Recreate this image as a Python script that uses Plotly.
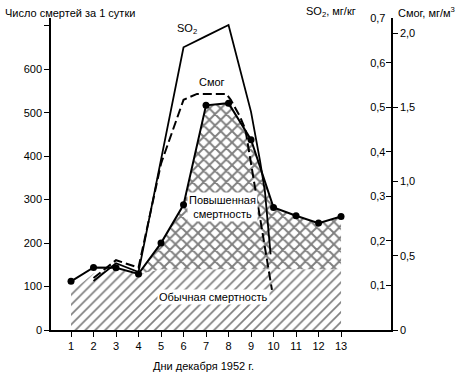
import plotly.graph_objects as go

days = list(range(1, 14))
deaths = [112, 144, 143, 129, 200, 288, 517, 522, 438, 282, 263, 246, 261]
usual = [88, 130, 140, 129, 140, 140, 140, 140, 140, 140, 140, 140, 140]

so2_days = [2, 3, 4, 5, 6, 7, 8, 9, 9.4, 9.62, 9.76, 9.87]
so2_vals = [0.11, 0.15, 0.13, 0.38, 0.635, 0.66, 0.685, 0.49, 0.38, 0.31, 0.24, 0.17]

smog_days = [2, 3, 4, 5, 6, 6.6, 7.9, 8.1, 8.5, 8.75, 9.93]
smog_vals = [0.35, 0.47, 0.42, 1.12, 1.55, 1.59, 1.59, 1.55, 1.44, 1.35, 0.27]

x_ticks = days
y_ticks = [0, 100, 200, 300, 400, 500, 600, 700]
y_text = ["0", "100", "200", "300", "400", "500", "600", ""]
so2_ticks = [0.1, 0.2, 0.3, 0.4, 0.5, 0.6, 0.7]
so2_text = ["0,1", "0,2", "0,3", "0,4", "0,5", "0,6", "0,7"]
smog_ticks = [0, 0.5, 1.0, 1.5, 2.0]
smog_text = ["0", "0,5", "1,0", "1,5", "2,0"]

FONT = "Liberation Sans"
fig = go.Figure()

# ordinary mortality (diagonal hatch)
fig.add_trace(go.Scatter(
    x=days, y=usual, mode="lines", line=dict(width=0, color="black"),
    fill="tozeroy", fillcolor="white",
    fillpattern=dict(shape="/", size=7, solidity=0.24, fgcolor="black", bgcolor="white"),
    hoverinfo="skip", showlegend=False))

# excess mortality (cross hatch): between usual and deaths, days 4..13
i0 = 3
ex_x = days[i0:] + days[i0:][::-1]
ex_y = [max(d, u) for d, u in zip(deaths[i0:], usual[i0:])] + usual[i0:][::-1]
fig.add_trace(go.Scatter(
    x=ex_x, y=ex_y, mode="lines", line=dict(width=0, color="black"),
    fill="toself", fillcolor="white",
    fillpattern=dict(shape="x", size=8, solidity=0.42, fgcolor="black", bgcolor="white"),
    hoverinfo="skip", showlegend=False))

# SO2 line
fig.add_trace(go.Scatter(
    x=so2_days, y=so2_vals, yaxis="y2", mode="lines",
    line=dict(color="black", width=1.8), showlegend=False))

# Smog line
fig.add_trace(go.Scatter(
    x=smog_days, y=smog_vals, yaxis="y3", mode="lines",
    line=dict(color="black", width=2, dash="9px,4px"), showlegend=False))

# deaths line
fig.add_trace(go.Scatter(
    x=days, y=deaths, mode="lines+markers",
    line=dict(color="black", width=2), marker=dict(color="black", size=7),
    showlegend=False))

W, H = 464, 373
L, R, T, B = 51, 73, 14, 43
pw, ph = W - L - R, H - T - B

def px(xp):
    return (xp - L) / pw

def py(yp):
    return (H - B - yp) / ph

tf = dict(family=FONT, size=11, color="black")
axis_common = dict(showgrid=False, zeroline=False, showline=True, linecolor="black",
                   linewidth=1.5, tickcolor="black", ticklen=5, tickwidth=1.2, tickfont=tf)

fig.update_layout(
    width=W, height=H, margin=dict(l=L, r=R, t=T, b=B),
    paper_bgcolor="white", plot_bgcolor="white",
    font=tf,
    xaxis=dict(range=[0.111, 15.22], tickvals=x_ticks, ticks="outside", mirror=False, **axis_common),
    yaxis=dict(range=[0, 718], tickvals=y_ticks, ticktext=y_text, ticks="outside", **axis_common),
    yaxis2=dict(range=[0, 0.7007], overlaying="y", side="right", anchor="x",
                tickvals=so2_ticks, ticktext=so2_text, ticks="inside",
                ticklabelposition="inside", ticklabeloverflow="allow", **axis_common),
    yaxis3=dict(range=[0, 2.101], overlaying="y", side="right", anchor="x",
                tickvals=smog_ticks, ticktext=smog_text, ticks="outside", **axis_common),
)

ann = [
    dict(text="Число смертей за 1 сутки", x=px(3), y=py(9), xanchor="left", yanchor="middle"),
    dict(text="SO<sub>2</sub>, мг/кг", x=px(331), y=py(8), xanchor="center", yanchor="middle"),
    dict(text="Смог, мг/м<sup>3</sup>", x=px(426), y=py(8), xanchor="center", yanchor="middle"),
    dict(text="Дни декабря 1952 г.", x=px(203), y=py(366), xanchor="center", yanchor="middle"),
]
for a in ann:
    fig.add_annotation(xref="paper", yref="paper", showarrow=False, font=tf, **a)

fig.add_annotation(x=6.16, y=693, xref="x", yref="y", text="SO<sub>2</sub>", showarrow=False, font=tf)
fig.add_annotation(x=7.27, y=571, xref="x", yref="y", text="Смог", showarrow=False, font=tf)
fig.add_annotation(x=7.71, y=282, xref="x", yref="y", text="Повышенная<br>смертность",
                   showarrow=False, font=tf, bgcolor="white", borderpad=1)
fig.add_annotation(x=7.31, y=75, xref="x", yref="y", text="Обычная смертность",
                   showarrow=False, font=tf, bgcolor="white", borderpad=1)

fig.write_html("out.html")
